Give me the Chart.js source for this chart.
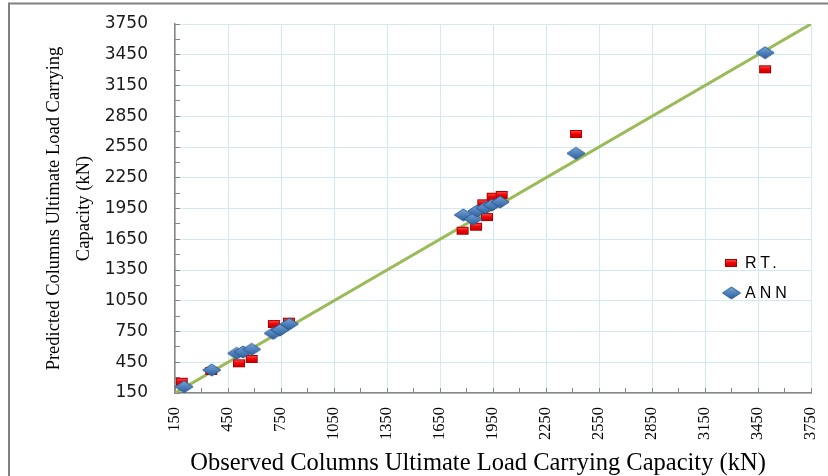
<!DOCTYPE html>
<html><head><meta charset="utf-8">
<script src="https://cdn.jsdelivr.net/npm/chart.js@4/dist/chart.umd.min.js"></script>
<style>html,body{margin:0;padding:0;background:#fff;}#wrap{width:828px;height:476px;}</style>
</head><body><div id="wrap"><canvas id="c" width="828" height="476"></canvas></div>
<script>
// ---- data ----
const seriesNames = ['RT.', 'ANN'];
const rtX  = [188, 355, 512, 584, 710, 795, 1778, 1854, 1916, 1895, 1948, 1999, 2420, 3490];
const rtY  = [260, 365, 440, 482, 823, 846, 1733, 1772, 1867, 2001, 2065, 2082, 2677, 3308];
const annX = [201, 358, 499, 535, 584, 706, 744, 797, 1782, 1837, 1859, 1905, 1944, 1990, 2420, 3490];
const annY = [211, 374, 537, 550, 576, 732, 765, 823, 1887, 1847, 1926, 1955, 1984, 2013, 2488, 3470];
const lineX = [150, 3750];
const lineY = [150, 3750];
const axisMin = 150, axisMax = 3750, majorStep = 300, minorStep = 150;
const xTitle = 'Observed Columns Ultimate Load Carrying Capacity (kN)';
const yTitle = ['Predicted Columns Ultimate Load Carrying', 'Capacity (kN)'];

// ---- marker images ----
function makeRect() {
  const c = document.createElement('canvas'); c.width = 14; c.height = 10;
  const g = c.getContext('2d');
  const gr = g.createLinearGradient(0, 1, 0, 9);
  gr.addColorStop(0, '#ff5a5a'); gr.addColorStop(0.5, '#f00000'); gr.addColorStop(1, '#c00000');
  g.fillStyle = gr; g.fillRect(1, 1, 12, 8);
  g.strokeStyle = '#b00000'; g.lineWidth = 1; g.strokeRect(1.5, 1.5, 11, 7);
  return c;
}
function makeDiamond() {
  const c = document.createElement('canvas'); c.width = 20; c.height = 14;
  const g = c.getContext('2d');
  const gr = g.createLinearGradient(0, 1, 0, 13);
  gr.addColorStop(0, '#7ba7dc'); gr.addColorStop(0.5, '#4f81bd'); gr.addColorStop(1, '#2f5f99');
  g.beginPath(); g.moveTo(10, 1); g.lineTo(19, 7); g.lineTo(10, 13); g.lineTo(1, 7); g.closePath();
  g.fillStyle = gr; g.fill();
  g.strokeStyle = '#2d5a8e'; g.lineWidth = 1; g.stroke();
  return c;
}
const rectImg = makeRect();
const diamondImg = makeDiamond();

const isMajor = v => Math.abs(((v - axisMin) % majorStep)) < 1e-6;
const zeroPad = s => { s.paddingTop = 0; s.paddingBottom = 0; s.paddingLeft = 0; s.paddingRight = 0; };

const framePlugin = {
  id: 'frame',
  beforeDraw(chart) {
    const ctx = chart.ctx;
    ctx.save();
    ctx.fillStyle = '#fff'; ctx.fillRect(0, 0, chart.width, chart.height);
    ctx.strokeStyle = '#808080'; ctx.lineWidth = 2;
    ctx.strokeRect(9, 3.5, 900, 600);
    ctx.restore();
  }
};
const legendPlugin = {
  id: 'innerLegend',
  afterDraw(chart) {
    const ctx = chart.ctx;
    const ds = chart.data.datasets;
    ctx.save();
    ctx.drawImage(rectImg, 731 - 7, 263 - 5);
    ctx.drawImage(diamondImg, 731.5 - 10, 293 - 7);
    ctx.fillStyle = '#000';
    ctx.font = '16px "Liberation Sans", Arial, sans-serif';
    try { ctx.letterSpacing = '4px'; } catch (e) {}
    ctx.textBaseline = 'middle';
    ctx.fillText(ds[1].label, 745, 264);
    ctx.fillText(ds[2].label, 745, 294);
    ctx.restore();
  }
};

new Chart(document.getElementById('c'), {
  type: 'scatter',
  data: {
    datasets: [
      { label: 'y = x', type: 'line', data: lineX.map((x, i) => ({x, y: lineY[i]})),
        borderColor: '#9bbb59', borderWidth: 3, pointRadius: 0, showLine: true, fill: false, order: 3 },
      { label: seriesNames[0], data: rtX.map((x, i) => ({x, y: rtY[i]})),
        pointStyle: rectImg, order: 2 },
      { label: seriesNames[1], data: annX.map((x, i) => ({x, y: annY[i]})),
        pointStyle: diamondImg, order: 1 }
    ]
  },
  options: {
    responsive: false, animation: false, devicePixelRatio: 1,
    layout: { padding: { left: 0, top: 24, right: 17, bottom: 0 } },
    plugins: { legend: { display: false }, tooltip: { enabled: false } },
    scales: {
      x: {
        type: 'linear', min: axisMin, max: axisMax,
        border: { color: '#868686', width: 1.5 },
        grid: { color: c => isMajor(c.tick.value) ? '#d3e9f2' : 'rgba(0,0,0,0)', tickColor: '#868686',
                tickLength: -5, drawTicks: true, lineWidth: 1 },
        ticks: { stepSize: minorStep, autoSkip: false, minRotation: 90, maxRotation: 90, padding: 19,
                 color: '#000', font: { family: 'Liberation Serif', size: 16.5 },
                 callback: v => isMajor(v) ? String(v) : '' },
        title: { display: true, text: xTitle, color: '#000', padding: 0,
                 font: { family: 'Liberation Serif', size: 24.5, lineHeight: 1 } },
        afterFit: s => {
          s.height = 476 - 393; zeroPad(s);
          if (!s._titleShifted) {
            const orig = s.drawTitle;
            s.drawTitle = function () { const r = this.right; this.right = r - 30; orig.call(this); this.right = r; };
            s._titleShifted = true;
          }
        }
      },
      y: {
        type: 'linear', min: axisMin, max: axisMax,
        border: { color: '#868686', width: 1.5 },
        grid: { color: c => isMajor(c.tick.value) ? '#d3e9f2' : 'rgba(0,0,0,0)', tickColor: '#868686',
                tickLength: -5, drawTicks: true, lineWidth: 1 },
        ticks: { stepSize: minorStep, autoSkip: false, padding: 32,
                 color: '#1a1a1a', font: { family: 'DejaVu Sans', size: 17 },
                 callback: v => isMajor(v) ? String(v) : '' },
        title: { display: true, text: yTitle, color: '#000', padding: { top: 39, bottom: 0 },
                 font: { family: 'Liberation Serif', size: 18.5, lineHeight: 30 / 18.5 } },
        afterFit: s => { s.width = 175; zeroPad(s); }
      }
    }
  },
  plugins: [framePlugin, legendPlugin]
});
</script>
</body></html>
